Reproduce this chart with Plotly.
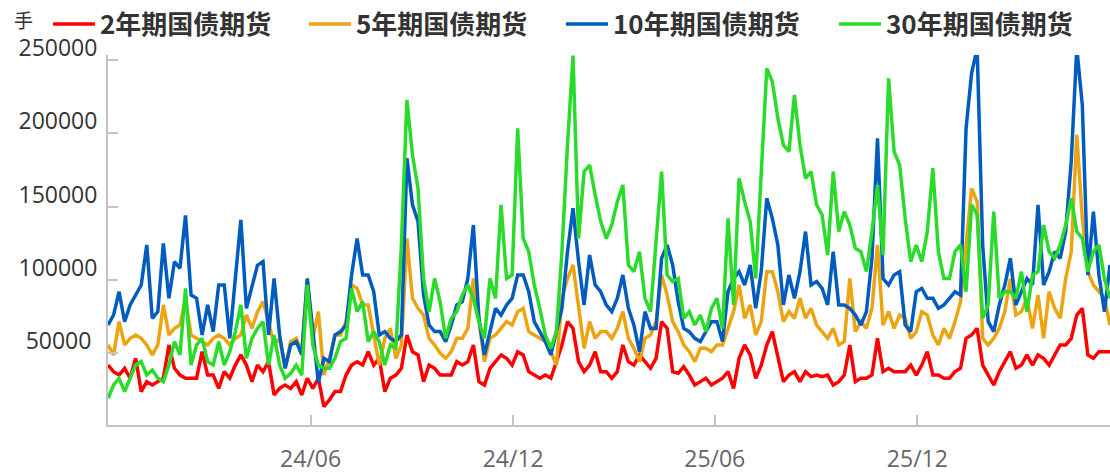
import plotly.graph_objects as go
import pandas as pd

# sample dates (every 5 days)
dates = pd.date_range("2023-12-01", periods=182, freq="5D")

tick_vals = ["2024-06-01", "2024-12-01", "2025-06-01", "2025-12-01"]
tick_text = ["24/06", "24/12", "25/06", "25/12"]
y_ticks = [50000, 100000, 150000, 200000, 250000]
y_text = ["50000\u00a0", "100000", "150000", "200000", "250000"]

names = ["2年期国债期货", "5年期国债期货", "10年期国债期货", "30年期国债期货"]
colors = ["#ff0000", "#eca412", "#005cbf", "#2bdb2b"]

ts2 = [42000, 37500, 35200, 39800, 33000, 46600, 23900, 30700, 28400, 30700, 33000, 55700, 39800, 35200, 33000, 33000,
       33000, 51100, 35200, 35200, 26100, 37500, 33000, 42000, 48900, 42000, 30700, 42000, 37500, 44300, 21600,
       26100, 28400, 26100, 30700, 21600, 33000, 26100, 33000, 13600, 18200, 23900, 23900, 35200, 42000, 44300,
       42000, 51100, 42000, 46600, 23900, 33000, 35200, 39800, 62500, 51100, 48900, 30700, 42000, 39800, 35200,
       35200, 35200, 44300, 42000, 44300, 55700, 30700, 28400, 39800, 44300, 48900, 46600, 42000, 51100, 48900,
       37500, 35200, 33000, 35200, 33000, 44300, 55700, 71600, 67000, 44300, 37500, 42000, 51100, 37500,
       37500, 33000, 37500, 55700, 44300, 42000, 48900, 44300, 39800, 46600, 71600, 67000, 37500, 36400, 40900,
       35200, 28400, 30700, 33000, 28400, 30700, 33000, 37500, 26100, 46600, 55700, 48900, 33000, 42000, 55700,
       64800, 46600, 30700, 35200, 37500, 30700, 37500, 34100, 35200, 34100, 35200, 28400, 30700, 35200, 55700,
       30700, 33000, 33000, 35200, 60200, 37500, 39800, 37500, 37500, 37500, 42000, 35200, 42000, 51100, 35200,
       35200, 33000, 33000, 37500, 39800, 60200, 62500, 67000, 42000, 35200, 28400, 37500, 44300, 51100, 39800,
       42000, 48900, 42000, 48900, 46600, 42000, 48900, 55700, 55700, 60200, 76100, 80700, 48900, 46600, 51100,
       51100, 51100]

ts5 = [55700, 48900, 71600, 55700, 60200, 62500, 60200, 55700, 48900, 55700, 83000, 62500, 67000, 69300, 87500, 62500,
       60200, 58000, 55700, 60200, 62500, 60200, 55700, 60200, 62500, 76100, 67000, 78400, 85200, 71600, 55700,
       60200, 39800, 58000, 60200, 51100, 101000, 60200, 78400, 35200, 46600, 62500, 62500, 71600, 96600, 94300,
       83000, 83000, 62500, 42000, 60200, 67000, 46600, 55700, 128300, 87500, 80700, 76100, 60200, 55700, 50000,
       46600, 51100, 60200, 60200, 67000, 101000, 71600, 44300, 60200, 62500, 67000, 71600, 69300, 78400, 80700,
       64800, 62500, 60200, 58000, 51100, 42000, 87500, 101000, 110200, 83000, 53400, 71600, 60200, 64800,
       64800, 60200, 67000, 78400, 60200, 53400, 44300, 60200, 62500, 71600, 103400, 89800, 71600, 64800, 55700,
       51100, 44300, 53400, 53400, 51100, 55700, 55700, 67000, 78400, 96600, 73900, 83000, 62500, 71600, 105700,
       105700, 92000, 71600, 78400, 73900, 87500, 73900, 80700, 69300, 64800, 60200, 67000, 55700, 58000, 101000,
       64800, 71600, 67000, 80700, 123900, 69300, 78400, 67000, 76100, 73900, 60200, 64800, 78400, 76100, 62500,
       55700, 67000, 60200, 71600, 85200, 123900, 162500, 153400, 60200, 55700, 60200, 67000, 78400, 101000, 76100,
       78400, 87500, 67000, 89800, 60200, 92000, 80700, 73900, 101000, 119300, 198900, 142000, 105700, 96600, 92000,
       87500, 69300]

ts10 = [69300, 76100, 92000, 71600, 83000, 89800, 96600, 123900, 73900, 78400, 125000, 87500, 112500, 108000, 144000,
        89800, 87500, 62500, 83000, 64800, 96600, 96600, 60200, 101000, 141000, 80700, 96600, 110000, 112500, 62500,
        101000,
        62500, 39800, 55700, 58000, 48900, 101000, 62500, 30000, 46600, 44300, 62500, 64800, 69300, 103400, 128300,
        103400, 103400, 92000, 62500, 64800, 60200, 58000, 62500, 183000, 151200, 140000, 89800, 69300, 64800, 64800,
        58000, 69300, 83000, 85200, 101000, 137500, 73900, 48900, 64800, 80700, 76100, 83000, 87500, 103400, 103400,
        92000, 71600, 64800, 58000, 48900, 64800, 80700, 119300, 148900, 112500, 83000, 117000, 96600, 92000,
        83000, 78400, 87500, 103400, 80700, 69300, 51100, 78400, 67000, 67000, 114800, 123900, 110200, 85200, 67000,
        64800, 60200, 58000, 64800, 71600, 71600, 58000, 92000, 101000, 105700, 96600, 110200, 80700, 105700, 155700,
        142000, 123900, 83000, 103400, 87500, 105700, 133000, 96600, 98900, 94300, 83000, 119300, 83000, 83000, 80700,
        76100, 69300, 78400, 114800, 196600, 101000, 96600, 103400, 105700, 69300, 64800, 92000, 94300, 87500, 87500,
        80700, 83000, 87500, 92000, 89800, 203400, 241000, 258000, 123900, 71600, 64800, 83000, 96600, 114800, 83000,
        92000, 101000, 96600, 151200, 96600, 105700, 119300, 114800, 133000, 181000, 258000, 219300, 103400, 146600,
        103400, 78400, 110200]

ts30 = [19300, 28400, 33000, 23900, 33000, 42000, 44300, 35200, 38600, 33000, 30700, 42000, 58000, 48900, 94300, 42000,
        55700, 60200, 44300, 42000, 58000, 42000, 51100, 64800, 83000, 46600, 60200, 67000, 71600, 42000, 62500,
        42000, 33000, 36400, 42000, 35200, 96600, 55700, 42000, 39800, 39800, 46600, 58000, 60200, 94300, 78400,
        85200, 58000, 64800, 58000, 42000, 55700, 53400, 123900, 222800, 185200, 162500, 101000, 78400, 101000, 85000,
        60200, 73900, 78400, 89800, 96600, 87500, 71600, 60200, 101000, 87500, 151200, 101000, 103400, 203400, 128300,
        119300, 96600, 80700, 62500, 53400, 64800, 119300, 192000, 253000, 128300, 173900, 178400, 158000, 140000,
        128300, 137500, 153400, 164800, 110200, 105700, 119300, 87500, 78400, 123900, 173900, 103400, 98900, 101000,
        73900, 78400, 69300, 76100, 64800, 80700, 87500, 67000, 142000, 83000, 169300, 153400, 139800, 101000, 169300,
        244300,
        235300, 210300, 192000, 187600, 226200, 192000, 169300, 173900, 151200, 144300, 117000, 173900, 133000, 146600,
        137500, 121600, 119300, 105700, 133000, 164800, 117000, 237500, 187600, 178400, 142000, 112500, 123900, 112500,
        133000, 176200,
        119300, 101000, 101000, 119300, 123900, 92000, 151200, 144300, 73900, 83000, 146600, 87500, 92000, 92000, 87500,
        105700, 78400, 103400, 105700, 137500, 119300, 114800, 123900, 137500, 155700, 133000, 128300, 105700, 119300,
        123900, 101000, 87500]

series = [ts2, ts5, ts10, ts30]
for s in series:
    assert len(s) == len(dates), len(s)

W, H = 1110, 473
ML, MT, MB = 108, 55, 48
PW, PH = W - ML, H - MT - MB
legend_px = [48, 304, 561, 834]
legend_keys = ["legend", "legend2", "legend3", "legend4"]

fig = go.Figure()
for name, col, vals, lk in zip(names, colors, series, legend_keys):
    fig.add_trace(go.Scatter(x=dates, y=vals, mode="lines", name=name,
                             line=dict(color=col, width=3.5), legend=lk))

layout_legends = {}
for lk, px in zip(legend_keys, legend_px):
    layout_legends[lk] = dict(
        xref="paper", yref="paper", x=(px - ML) / PW, y=(H - MB - 24) / PH,
        xanchor="left", yanchor="middle", orientation="h",
        bgcolor="rgba(0,0,0,0)", borderwidth=0, itemwidth=42,
        font=dict(family="Noto Sans CJK SC", size=26, color="#333333", weight="bold"),
    )

fig.update_layout(
    width=W, height=H,
    margin=dict(l=ML, r=0, t=MT, b=MB, autoexpand=False),
    paper_bgcolor="white", plot_bgcolor="white",
    showlegend=True,
    **layout_legends,
)

fig.update_xaxes(
    type="date", range=["2023-12-01", "2026-05-24"],
    tickvals=tick_vals, ticktext=tick_text,
    ticks="inside", ticklen=10, tickwidth=2, tickcolor="#c4c4c4",
    showline=True, linecolor="#c4c4c4", linewidth=2, showgrid=False, zeroline=False,
    tickfont=dict(family="Open Sans", size=23, color="#666666"),
    ticklabelstandoff=12, automargin=False,
)
fig.update_yaxes(
    range=[1130, 253400], tickvals=y_ticks, ticktext=y_text,
    ticks="inside", ticklen=10, tickwidth=2, tickcolor="#c4c4c4",
    showline=True, linecolor="#c4c4c4", linewidth=2, showgrid=False, zeroline=False,
    tickfont=dict(family="Open Sans", size=23, color="#333333"),
    ticklabelshift=-12, ticklabelstandoff=4, automargin=False,
)

fig.add_annotation(text="手", xref="paper", yref="paper",
                   x=(12 - ML) / PW, y=(H - MB - 19) / PH,
                   xanchor="left", yanchor="middle", showarrow=False,
                   font=dict(family="Noto Sans CJK SC", size=19, color="#333333"))

fig.write_html("out.html", config={"displayModeBar": False},
               post_script="document.body.style.margin='0';")
